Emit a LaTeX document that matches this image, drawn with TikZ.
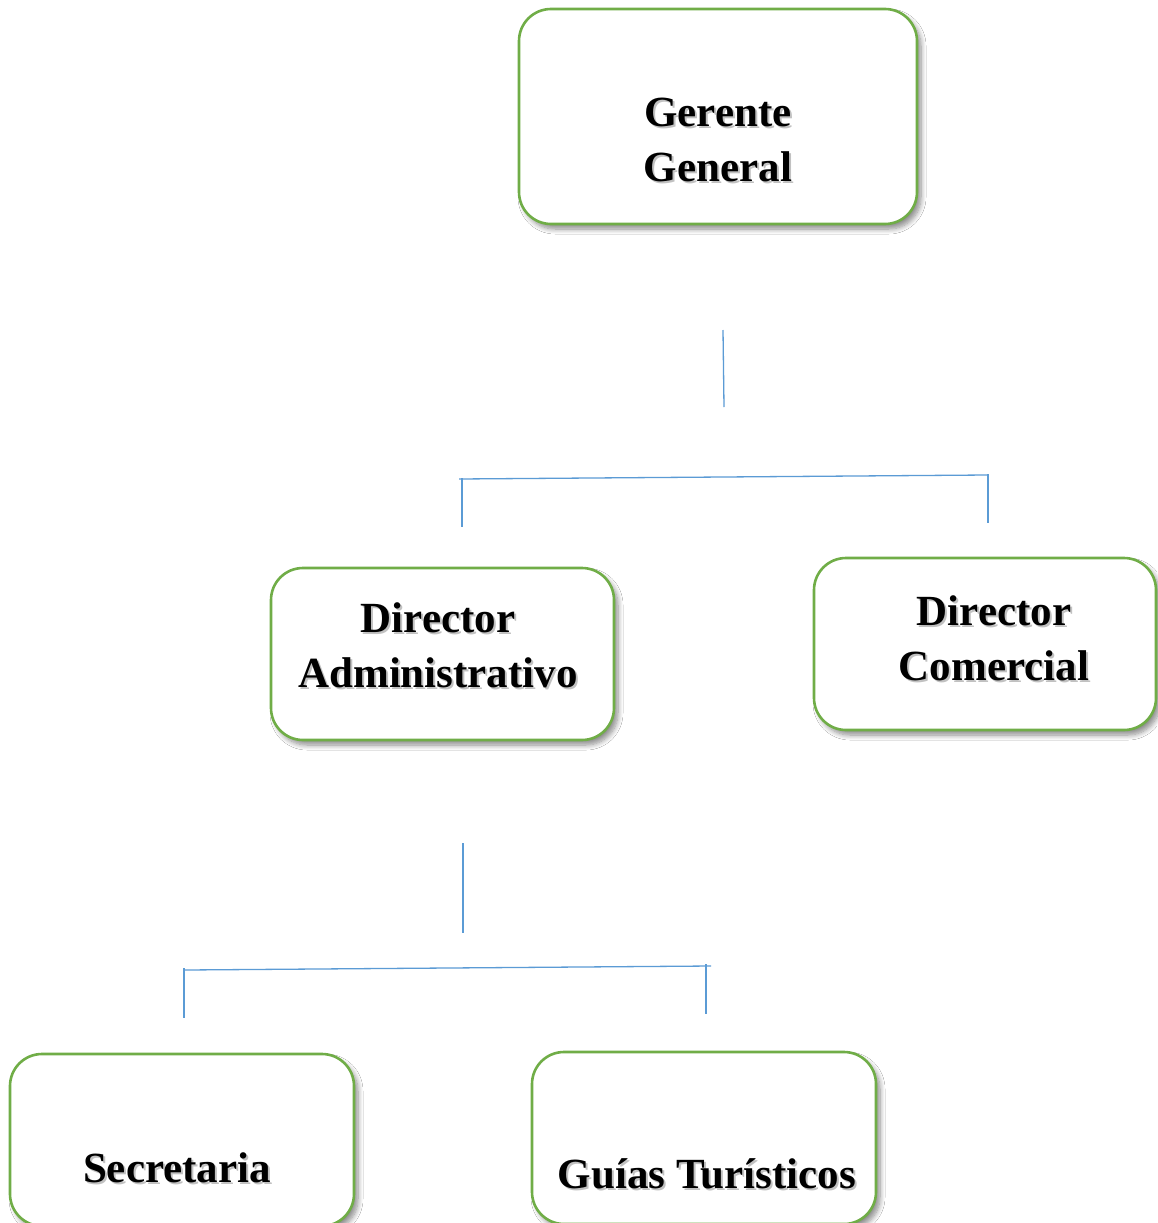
\documentclass[tikz,border=0pt]{standalone}
\usepackage{fontspec}
\setmainfont{Liberation Serif}
\usetikzlibrary{shadows.blur}
\definecolor{boxgreen}{HTML}{70AD47}
\definecolor{lineblue}{HTML}{5B9BD5}
\tikzset{
  orgbox/.style={draw=boxgreen, line width=2.6pt, fill=white, rounded corners=32pt,
    inner sep=0pt, blur shadow={shadow xshift=4pt, shadow yshift=-5pt, shadow blur steps=8, shadow blur radius=5pt, shadow opacity=45}},
  lbltx/.style={anchor=base, inner sep=0pt, font=\fontsize{43}{55}\selectfont\bfseries, text=black},
  lblsh/.style={lbltx, text=black!40, opacity=0.6},
  conn/.style={draw=lineblue, line width=1.3pt}
}
\newcommand\lbl[3]{%
  \node[lblsh] at ([shift={(2,2)}]#2) {#3};
  \node[lbltx] (#1) at (#2) {#3};}
\begin{document}
\begin{tikzpicture}[x=1pt,y=-1pt]
\useasboundingbox[fill=white] (0,0) rectangle (1157,1223);
% boxes
\node[orgbox, minimum width=398pt, minimum height=215pt] (gg) at (718,116.5) {};
\node[orgbox, minimum width=343pt, minimum height=172pt] (da) at (442.5,654) {};
\node[orgbox, minimum width=342pt, minimum height=172pt] (dc) at (985,644) {};
\node[orgbox, minimum width=344pt, minimum height=172pt] (sec) at (182,1140) {};
\node[orgbox, minimum width=344pt, minimum height=172pt] (gt) at (704,1138) {};
% labels
\lbl{gg1}{718,126}{Gerente}
\lbl{gg2}{718,181}{General}
\lbl{da1}{438,632}{Director}
\lbl{da2}{438,687}{Administrativo}
\lbl{dc1}{994,625}{Director}
\lbl{dc2}{994,680}{Comercial}
\lbl{sec1}{177,1182}{Secretaria}
\lbl{gt1}{707,1188}{Guías Turísticos}
% connector coordinates
\coordinate (a1) at (723,330);
\coordinate (a2) at (724,407);
\coordinate (h1l) at (459,479);
\coordinate (h1r) at (987,475);
\coordinate (l1t) at (462,478);
\coordinate (l1b) at (462,527);
\coordinate (r1t) at (988,474);
\coordinate (r1b) at (988,523);
\coordinate (b1) at (463,843);
\coordinate (b2) at (463,933);
\coordinate (h2l) at (185,970);
\coordinate (h2r) at (711,966);
\coordinate (l2t) at (184,968);
\coordinate (l2b) at (184,1018);
\coordinate (r2t) at (706,964);
\coordinate (r2b) at (706,1014);
\draw[conn] (a1) -- (a2);
\draw[conn] (h1l) -- (h1r);
\draw[conn] (l1t) -- (l1b);
\draw[conn] (r1t) -- (r1b);
\draw[conn] (b1) -- (b2);
\draw[conn] (h2l) -- (h2r);
\draw[conn] (l2t) -- (l2b);
\draw[conn] (r2t) -- (r2b);
\end{tikzpicture}
\end{document}
